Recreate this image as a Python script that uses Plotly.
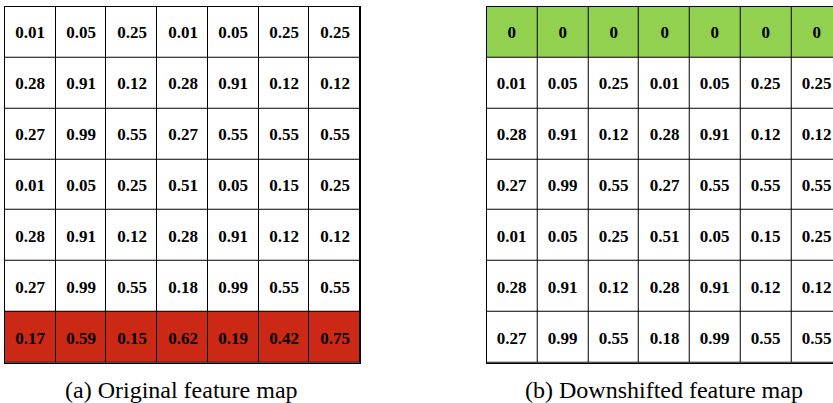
import plotly.graph_objects as go

cols = ["c1", "c2", "c3", "c4", "c5", "c6", "c7"]
rows = ["r1", "r2", "r3", "r4", "r5", "r6", "r7"]

original = [
    [0.01, 0.05, 0.25, 0.01, 0.05, 0.25, 0.25],
    [0.28, 0.91, 0.12, 0.28, 0.91, 0.12, 0.12],
    [0.27, 0.99, 0.55, 0.27, 0.55, 0.55, 0.55],
    [0.01, 0.05, 0.25, 0.51, 0.05, 0.15, 0.25],
    [0.28, 0.91, 0.12, 0.28, 0.91, 0.12, 0.12],
    [0.27, 0.99, 0.55, 0.18, 0.99, 0.55, 0.55],
    [0.17, 0.59, 0.15, 0.62, 0.19, 0.42, 0.75],
]
original_kind = [0, 0, 0, 0, 0, 0, 1]  # 1 = dropped row (red)

downshifted = [
    [0, 0, 0, 0, 0, 0, 0],
    [0.01, 0.05, 0.25, 0.01, 0.05, 0.25, 0.25],
    [0.28, 0.91, 0.12, 0.28, 0.91, 0.12, 0.12],
    [0.27, 0.99, 0.55, 0.27, 0.55, 0.55, 0.55],
    [0.01, 0.05, 0.25, 0.51, 0.05, 0.15, 0.25],
    [0.28, 0.91, 0.12, 0.28, 0.91, 0.12, 0.12],
    [0.27, 0.99, 0.55, 0.18, 0.99, 0.55, 0.55],
]
downshifted_kind = [2, 0, 0, 0, 0, 0, 0]  # 2 = padded row (green)

captions = ["(a) Original feature map", "(b) Downshifted feature map"]

W, H = 833, 403
WHITE, RED, GREEN = "#ffffff", "#cb2915", "#92d050"
colorscale = [[0, WHITE], [0.3333, WHITE], [0.3334, RED], [0.6666, RED], [0.6667, GREEN], [1, GREEN]]


def fmt(v):
    return "0" if v == 0 else f"{v:.2f}"


def heat(values, kinds, xa, ya):
    z = [[k] * len(cols) for k in kinds]
    text = [[fmt(v) for v in row] for row in values]
    return go.Heatmap(
        z=z, x=list(range(len(cols))), y=list(range(len(rows))),
        text=text, texttemplate="%{text}",
        textfont=dict(family="Liberation Serif", size=17, color="black", weight="bold"),
        colorscale=colorscale, zmin=0, zmax=2, showscale=False,
        xgap=1, ygap=1, hoverinfo="skip", xaxis=xa, yaxis=ya,
    )


fig = go.Figure()
fig.add_trace(heat(original, original_kind, "x", "y"))
fig.add_trace(heat(downshifted, downshifted_kind, "x2", "y2"))

cell = 50.75
y_dom = [1 - 362.7 / H, 1 - 6.7 / H]
left_x = [5 / W, 360 / W]
right_start = 486.7
right_x = [right_start / W, 1.0]
right_range = [-0.5, -0.5 + (W - right_start) / cell]

ax_common = dict(showgrid=False, zeroline=False, showticklabels=False, ticks="",
                 showline=True, linecolor="black", linewidth=1)

cap_font = dict(family="Liberation Serif", size=24, color="black")

fig.update_layout(
    width=W, height=H,
    margin=dict(l=0, r=0, t=0, b=0),
    paper_bgcolor="white", plot_bgcolor="black",
    xaxis=dict(domain=left_x, range=[-0.5, 6.5], mirror=True, **ax_common),
    yaxis=dict(domain=y_dom, range=[6.5, -0.5], mirror=True, **ax_common),
    xaxis2=dict(domain=right_x, range=right_range, mirror=True, anchor="y2", **ax_common),
    yaxis2=dict(domain=y_dom, range=[6.5, -0.5], mirror=False, anchor="x2", **ax_common),
    annotations=[
        dict(text=captions[0], x=181.5 / W, y=1 - 390 / H, xref="paper", yref="paper",
             showarrow=False, font=cap_font, xanchor="center", yanchor="middle"),
        dict(text=captions[1], x=664 / W, y=1 - 390 / H, xref="paper", yref="paper",
             showarrow=False, font=cap_font, xanchor="center", yanchor="middle"),
    ],
)

fig.write_html("out.html", config={"displayModeBar": False},
               post_script="document.body.style.margin='0';document.body.style.padding='0';")
